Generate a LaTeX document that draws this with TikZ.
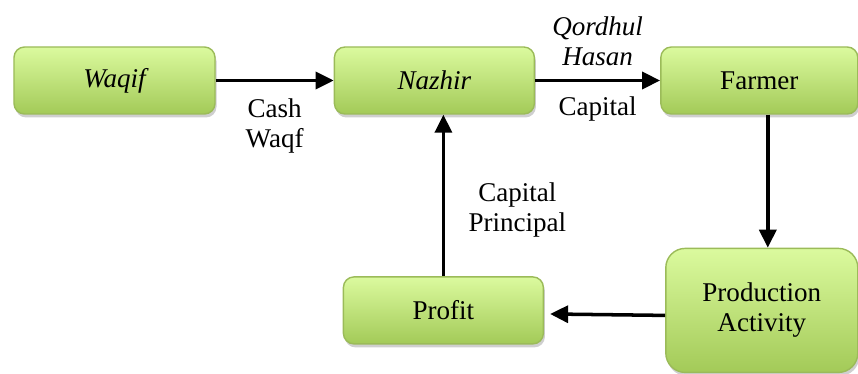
\documentclass[tikz,border=0pt]{standalone}
\usepackage{fontspec}
\setmainfont{Liberation Serif}
\usetikzlibrary{arrows.meta,positioning}
\definecolor{boxtop}{HTML}{DBFA9E}
\definecolor{boxbot}{HTML}{A3CA58}
\definecolor{boxline}{HTML}{9BBB59}
\definecolor{shade}{HTML}{CFCFCF}

\begin{document}
\begin{tikzpicture}[font=\fontsize{15.4}{17.2}\selectfont,node distance=2.4cm,
  flow/.style={-{Triangle[length=3.6mm,width=3.4mm]},line width=2pt},
  proc/.style={draw=boxline,line width=0.8pt,top color=boxtop,bottom color=boxbot,
    rounded corners=6pt,minimum width=4cm,minimum height=1.34cm,align=center,
    preaction={fill=shade,draw=none,transform canvas={shift={(0.03cm,-0.07cm)}}}}]
\useasboundingbox (0,0) rectangle (17.16,-7.48);
\node[proc,minimum width=4.02cm] (waqif) at (2.29,-1.61) {\itshape Waqif};
\node[proc,right=2.36cm of waqif] (nazhir) {\itshape Nazhir};
\node[proc,right=2.5cm of nazhir,minimum width=3.94cm] (farmer) {Farmer};
\node[proc,below=2.66cm of farmer,xshift=0.05cm,minimum width=3.84cm,minimum height=2.48cm,
      rounded corners=11pt] (prod) {Production\\Activity};
\node[proc,left=2.42cm of prod] (profit) {Profit};
\coordinate (down) at ([xshift=0.12cm]prod.north |- farmer.south);
\draw[flow] (waqif) -- node[below,align=center,yshift=-6pt]{Cash\\Waqf} (nazhir);
\draw[flow] (nazhir) -- node[above,align=center,yshift=4pt]{\itshape Qordhul\\\itshape Hasan}
  node[below,yshift=-5pt]{Capital} (farmer);
\draw[flow] (down) -- ([xshift=0.12cm]prod.north);
\draw[flow,shorten >=0.12cm] ([yshift=-0.1cm]prod.west) -- ([yshift=-0.07cm]profit.east);
\draw[flow] (profit.north) -- node[right,pos=0.41,align=center,xshift=0.35cm]{Capital\\Principal}
  (profit.north |- nazhir.south);
\end{tikzpicture}
\end{document}
